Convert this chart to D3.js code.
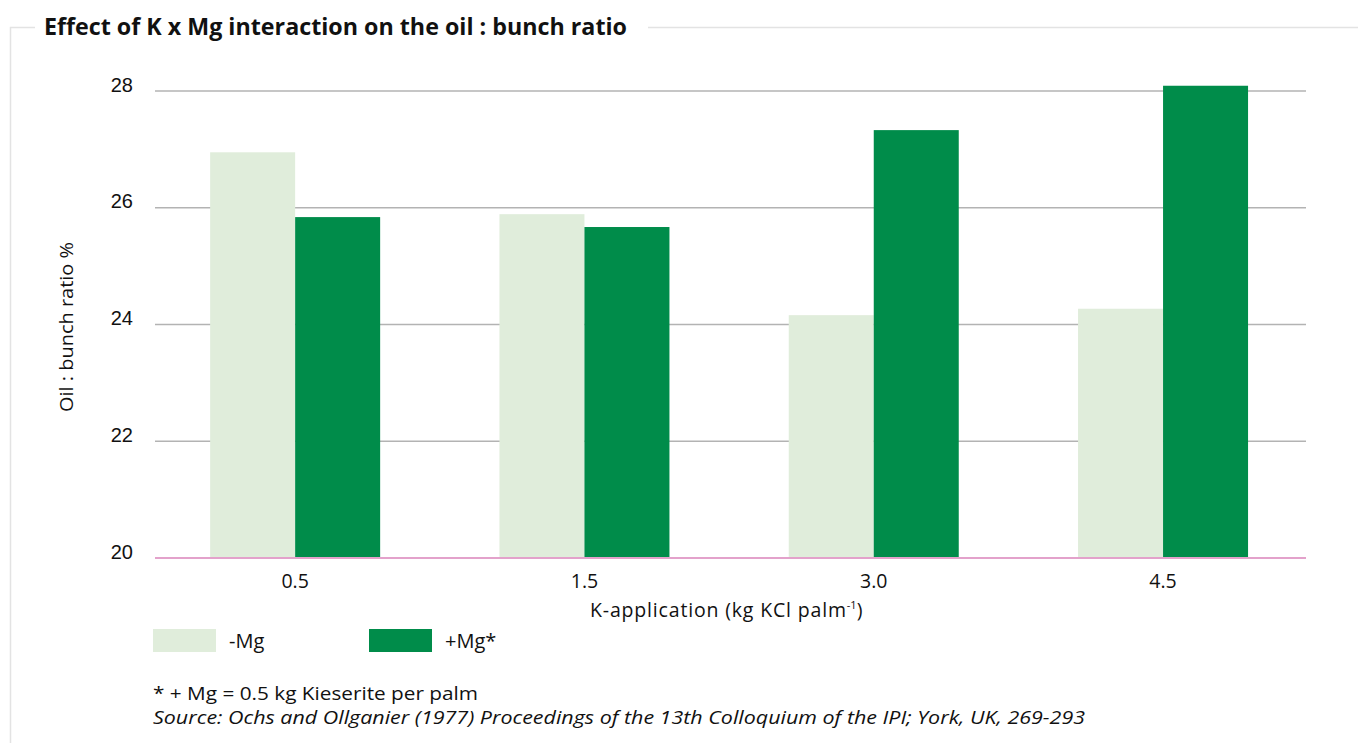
<!DOCTYPE html>
<html><head><meta charset="utf-8">
<script src="https://cdn.jsdelivr.net/npm/d3@7"></script>
<style>body{margin:0;background:#fff}svg{display:block}</style>
</head><body>
<svg id="c" width="1358" height="743"></svg>
<script>
const categories = ["0.5", "1.5", "3.0", "4.5"];
const seriesNames = ["-Mg", "+Mg*"];
const minusMg = [26.95, 25.89, 24.16, 24.27];
const plusMg = [25.84, 25.67, 27.33, 28.09];
const yTicks = [20, 22, 24, 26, 28];
const colors = ["#e0eddb", "#008c4a"];

(function () {
const svg = d3.select("#c");
const pLeft = 155, pRight = 1306, pTop = 91, pBottom = 558;
const FF = "'Open Sans', 'Noto Sans', sans-serif";

// frame
svg.append("path").attr("d", "M35,27.5 H10.5 V743").attr("fill","none").attr("stroke","#e3e3e3").attr("stroke-width",1.5);
svg.append("line").attr("x1",648).attr("x2",1358).attr("y1",27.5).attr("y2",27.5).attr("stroke","#e3e3e3").attr("stroke-width",1.5);
svg.append("text").attr("x",44).attr("y",35).text("Effect of K x Mg interaction on the oil : bunch ratio")
  .attr("font-family","'Open Sans', sans-serif").attr("font-weight","bold")
  .attr("font-size",23).attr("fill","#111").attr("textLength",583).attr("lengthAdjust","spacingAndGlyphs");

const y = d3.scaleLinear().domain([20, 28]).range([pBottom, pTop]);
const x0 = d3.scaleBand().domain(categories).range([150.5, 1307.7]).paddingInner(0).paddingOuter(0);
const x1 = d3.scaleBand().domain(seriesNames).range([0, 170]);

// grid
svg.append("g").selectAll("line").data(yTicks.filter(d => d > 20)).join("line")
  .attr("x1", pLeft).attr("x2", pRight).attr("y1", d => y(d)).attr("y2", d => y(d))
  .attr("stroke", "#b3b3b3").attr("stroke-width", 1.5);

// y tick labels
svg.append("g").selectAll("text").data(yTicks).join("text")
  .attr("x", 133).attr("y", d => y(d) + 0.5).attr("text-anchor", "end")
  .attr("font-family", "'Liberation Sans', Arial, sans-serif").attr("font-size", 20).attr("fill", "#111")
  .text(d => d);

// bars
const data = categories.map((c, i) => ({c, vals: [minusMg[i], plusMg[i]]}));
const g = svg.append("g");
data.forEach(d => {
  const cx = x0(d.c) + x0.bandwidth() / 2 - 85;
  d.vals.forEach((v, j) => {
    g.append("rect").attr("x", cx + x1(seriesNames[j])).attr("width", x1.bandwidth())
      .attr("y", y(v)).attr("height", y(20) - y(v)).attr("fill", colors[j]);
  });
});

// baseline
svg.append("line").attr("x1", pLeft).attr("x2", pRight).attr("y1", y(20)).attr("y2", y(20))
  .attr("stroke", "#e3a2cb").attr("stroke-width", 2);

// x labels
svg.append("g").selectAll("text").data(categories).join("text")
  .attr("x", d => x0(d) + x0.bandwidth() / 2).attr("y", 588).attr("text-anchor", "middle")
  .attr("font-family", FF).attr("font-size", 19.5).attr("fill", "#111")
  .text(d => d);

// axis titles
const xt = svg.append("text").attr("x", 590).attr("y", 617)
  .attr("font-family", FF).attr("font-size", 19.5).attr("fill", "#111");
xt.append("tspan").text("K-application (kg KCl palm").attr("textLength", 256).attr("lengthAdjust", "spacing");
xt.append("tspan").text("-1").attr("font-size", 11).attr("dy", -8);
xt.append("tspan").text(")").attr("dy", 8);

svg.append("text").attr("transform", "translate(73,327) rotate(-90)").attr("text-anchor", "middle")
  .attr("font-family", FF).attr("font-size", 19).attr("fill", "#111")
  .attr("textLength", 170).attr("lengthAdjust", "spacingAndGlyphs")
  .text("Oil : bunch ratio %");

// legend
const legX = [153, 369];
seriesNames.forEach((s, i) => {
  svg.append("rect").attr("x", legX[i]).attr("y", 629).attr("width", 63).attr("height", 23).attr("fill", colors[i]);
  svg.append("text").attr("x", legX[i] + 76).attr("y", 648)
    .attr("font-family", FF).attr("font-size", 20).attr("fill", "#111").text(s);
});

// notes
svg.append("text").attr("x", 153).attr("y", 700)
  .attr("font-family", FF).attr("font-size", 19).attr("fill", "#111")
  .attr("textLength", 325).attr("lengthAdjust", "spacingAndGlyphs")
  .text("* + Mg = 0.5 kg Kieserite per palm");
svg.append("text").attr("x", 153).attr("y", 724)
  .attr("font-family", FF).attr("font-style", "italic").attr("font-size", 19).attr("fill", "#111")
  .attr("textLength", 932).attr("lengthAdjust", "spacingAndGlyphs")
  .text("Source: Ochs and Ollganier (1977) Proceedings of the 13th Colloquium of the IPI; York, UK, 269-293");
})();
</script>
</body></html>
